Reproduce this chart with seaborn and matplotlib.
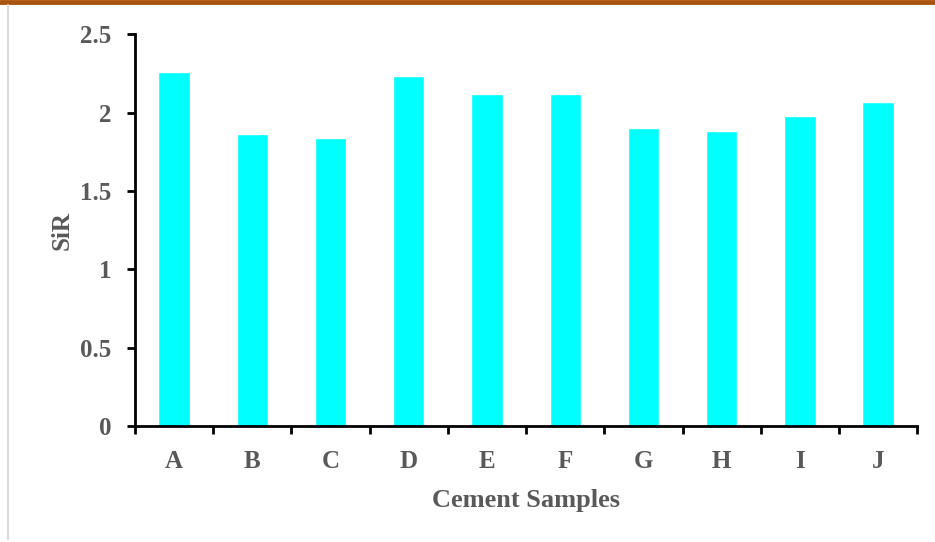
import matplotlib
matplotlib.use("Agg")
import matplotlib.pyplot as plt
import seaborn as sns
import pandas as pd
import numpy as np
from matplotlib.lines import Line2D

samples = ["A", "B", "C", "D", "E", "F", "G", "H", "I", "J"]
sir = [2.26, 1.86, 1.84, 2.23, 2.12, 2.12, 1.90, 1.88, 1.98, 2.07]
yticks = [0, 0.5, 1, 1.5, 2, 2.5]
ytick_labels = ["0", "0.5", "1", "1.5", "2", "2.5"]

df = pd.DataFrame({"Sample": samples, "SiR": sir})

sns.set_style("white")
plt.rcParams["font.family"] = ["Liberation Serif", "DejaVu Serif"]
plt.rcParams["font.weight"] = "bold"

fig = plt.figure(figsize=(9.35, 5.42), dpi=100)
ax = fig.add_axes([0.1444, 0.214, 0.981 - 0.1444, 0.937 - 0.214])

sns.barplot(data=df, x="Sample", y="SiR", color="#00FFFF", saturation=1, width=0.4, ax=ax)

ax.set_xlim(-0.5, len(samples) - 0.5)
ax.set_ylim(0, 2.5)
ax.set_yticks(yticks)
ax.set_yticklabels(ytick_labels)

ax.set_xticks(range(len(samples)))
ax.set_xticklabels(samples)
ax.set_xticks(np.arange(-0.5, len(samples)), minor=True)
ax.tick_params(axis="x", which="major", bottom=True, length=0, pad=17, labelsize=18, labelcolor="#595959")
ax.tick_params(axis="x", which="minor", bottom=True, length=6, width=2, direction="out", color="black")
ax.tick_params(axis="y", which="major", left=True, length=6, width=2, direction="out", color="black", pad=11, labelsize=18, labelcolor="#595959")
for lbl in ax.get_xticklabels() + ax.get_yticklabels():
    lbl.set_fontweight("bold")

for s in ["top", "right"]:
    ax.spines[s].set_visible(False)
for s in ["left", "bottom"]:
    ax.spines[s].set_linewidth(2)
    ax.spines[s].set_color("black")

ax.set_xlabel("Cement Samples", fontsize=19, fontweight="bold", color="#595959", labelpad=12)
ax.set_ylabel("SiR", fontsize=18, fontweight="bold", color="#595959", labelpad=5)

# decorative frame lines
fig.add_artist(Line2D([0, 1], [1 - 2/542, 1 - 2/542], transform=fig.transFigure, color="#A9530C", linewidth=3.5))
fig.add_artist(Line2D([7.5/935, 7.5/935], [0.005, 0.99], transform=fig.transFigure, color="#D9D9D9", linewidth=1.5))

fig.savefig("out.png", dpi=100)
